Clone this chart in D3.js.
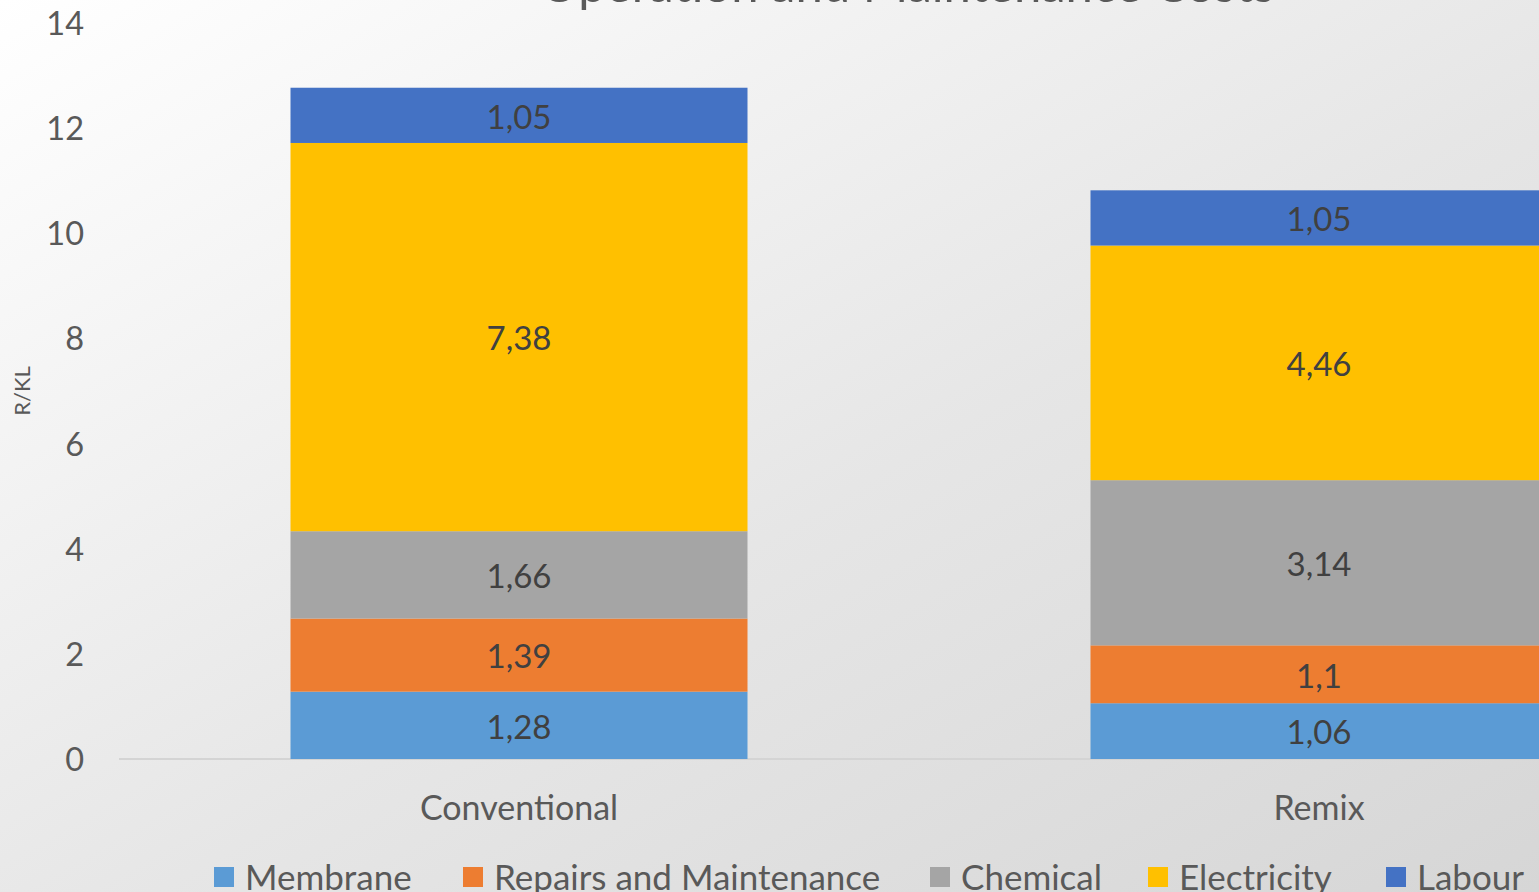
<!DOCTYPE html>
<html>
<head>
<meta charset="utf-8">
<script src="https://cdn.jsdelivr.net/npm/d3@7"></script>
<style>
html,body{margin:0;padding:0;overflow:hidden;background:#fff;}
svg{display:block;}
text{font-family:Lato,"Open Sans",sans-serif;}
</style>
</head>
<body>
<svg id="chart" width="1539" height="892"></svg>
<script>
const categories = ["Conventional", "Remix"];
const seriesNames = ["Membrane", "Repairs and Maintenance", "Chemical", "Electricity", "Labour"];
const seriesColors = ["#5b9bd5", "#ed7d31", "#a5a5a5", "#ffc000", "#4472c4"];
const membrane = [1.28, 1.06];
const repairs = [1.39, 1.1];
const chemical = [1.66, 3.14];
const electricity = [7.38, 4.46];
const labour = [1.05, 1.05];
const yTicks = [0, 2, 4, 6, 8, 10, 12, 14];
const title = "Operation and Maintenance Costs";
const yLabel = "R/KL";

const seriesValues = [membrane, repairs, chemical, electricity, labour];
const rows = categories.map((c, i) => {
  const r = {category: c};
  seriesNames.forEach((s, j) => r[s] = seriesValues[j][i]);
  return r;
});
const stacked = d3.stack().keys(seriesNames)(rows);

const svg = d3.select("#chart");
const W = 1539, H = 892;

const defs = svg.append("defs");
const grad = defs.append("linearGradient").attr("id", "bg")
  .attr("x1", "0").attr("y1", "0").attr("x2", "1").attr("y2", "1");
grad.append("stop").attr("offset", "0").attr("stop-color", "#ffffff");
grad.append("stop").attr("offset", "0.55").attr("stop-color", "#e6e6e6");
grad.append("stop").attr("offset", "1").attr("stop-color", "#d6d6d6");
svg.append("rect").attr("width", W).attr("height", H).attr("fill", "url(#bg)");

const x = d3.scaleBand().domain(categories).range([119, 1719])
  .paddingInner(0.42875).paddingOuter(0.42875 / 2);
const y = d3.scaleLinear().domain([0, 14]).range([759, 22.5]);

// axis baseline
svg.append("line").attr("x1", 119).attr("x2", 1719)
  .attr("y1", y(0)).attr("y2", y(0))
  .attr("stroke", "#d4d4d4").attr("stroke-width", 2);

// y tick labels
const yAxis = d3.axisLeft(y).tickValues(yTicks).tickSize(0).tickPadding(0);
const ya = svg.append("g").attr("transform", "translate(84,0)").call(yAxis);
ya.select(".domain").remove();
ya.selectAll("text").attr("font-size", 32.5).attr("fill", "#595959")
  .attr("font-family", "Lato, 'Open Sans', sans-serif").attr("dy", "0.36em");

// bars
const groups = svg.append("g").selectAll("g").data(stacked).join("g")
  .attr("fill", (d, i) => seriesColors[i]);
groups.selectAll("rect").data(d => d).join("rect")
  .attr("x", d => x(d.data.category))
  .attr("width", x.bandwidth())
  .attr("y", d => y(d[1]))
  .attr("height", d => y(d[0]) - y(d[1]));

// data labels
const fmt = v => String(v).replace(".", ",");
stacked.forEach((s) => {
  svg.append("g").selectAll("text").data(s).join("text")
    .attr("x", d => x(d.data.category) + x.bandwidth() / 2)
    .attr("y", d => (y(d[0]) + y(d[1])) / 2)
    .attr("dy", "0.4em")
    .attr("text-anchor", "middle")
    .attr("font-size", 33).attr("fill", "#404040")
    .text(d => fmt(+(d[1] - d[0]).toFixed(2)));
});

// category labels
const xAxis = d3.axisBottom(x).tickSize(0).tickPadding(0);
const xa = svg.append("g").attr("transform", "translate(0,808)").call(xAxis);
xa.select(".domain").remove();
xa.selectAll("text").attr("font-size", 34).attr("fill", "#595959")
  .attr("font-family", "Lato, 'Open Sans', sans-serif").attr("dy", "0.36em");

// y label
svg.append("text").attr("transform", "translate(30,391) rotate(-90)")
  .attr("text-anchor", "middle").attr("font-size", 22).attr("fill", "#595959")
  .text(yLabel);

// title
svg.append("text").attr("x", 907).attr("y", 2).attr("text-anchor", "middle")
  .attr("font-size", 49).attr("fill", "#595959").text(title);

// legend
const legendX = [214, 463, 930, 1148, 1386];
const lg = svg.append("g").selectAll("g").data(seriesNames).join("g")
  .attr("transform", (d, i) => `translate(${legendX[i]},0)`);
lg.append("rect").attr("x", 0).attr("y", 867).attr("width", 20).attr("height", 20)
  .attr("fill", (d, i) => seriesColors[i]);
lg.append("text").attr("x", 31).attr("y", 877).attr("dy", "0.38em")
  .attr("font-size", 35).attr("fill", "#595959").text(d => d);
</script>
</body>
</html>
